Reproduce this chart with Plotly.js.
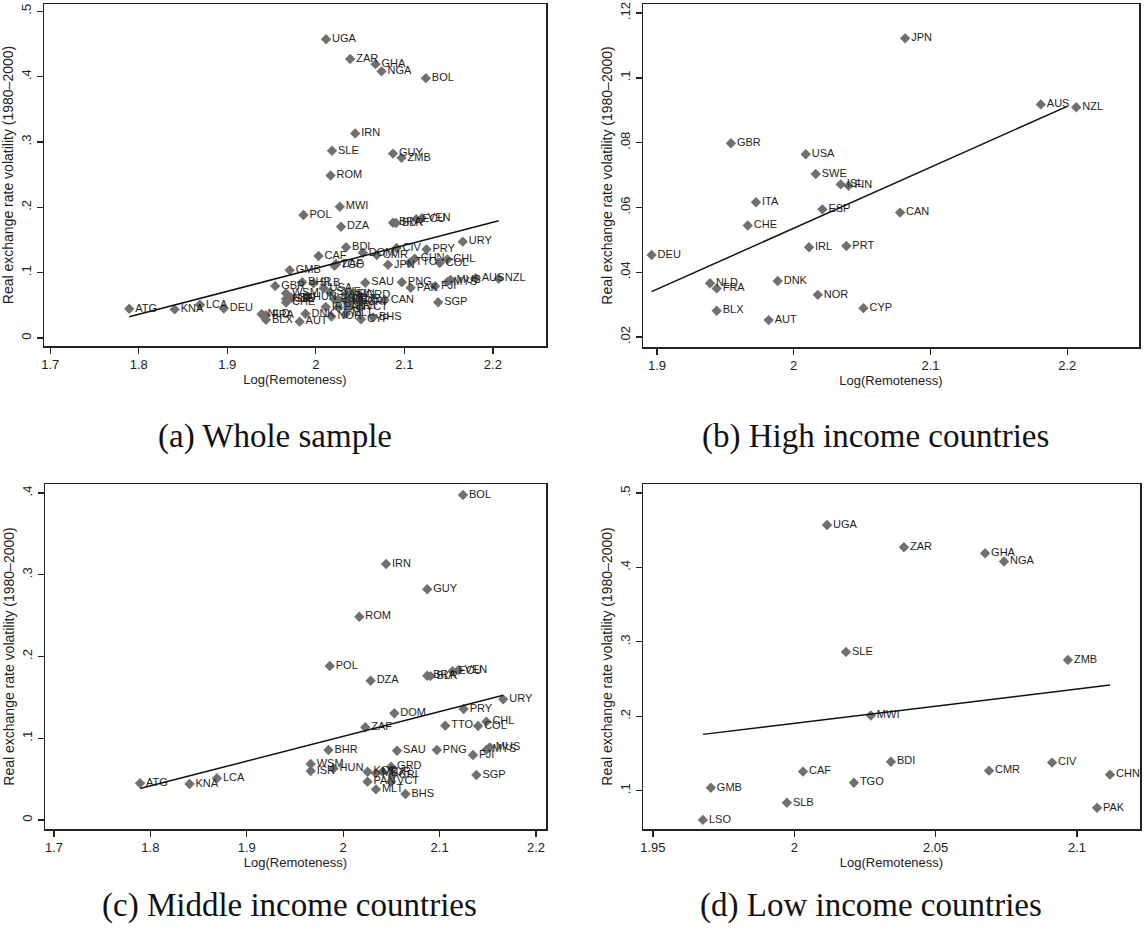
<!DOCTYPE html>
<html><head><meta charset="utf-8">
<script src="https://cdn.plot.ly/plotly-3.0.1.min.js"></script>
<style>html,body{margin:0;padding:0;background:#fff}#chart{width:1147px;height:937px}</style>
</head><body><div id="chart"></div>
<script>
// ---- High income countries ----
const highCodes = ['GBR','USA','SWE','ISL','FIN','ITA','ESP','CHE','DEU','IRL','PRT','NLD','FRA','DNK','NOR','BLX','AUT','CYP','CAN','JPN','AUS','NZL'];
const highX = [1.9541,2.0088,2.0161,2.0344,2.0401,1.9724,2.0210,1.9664,1.8961,2.0112,2.0385,1.9388,1.9437,1.9883,2.0176,1.9437,1.9817,2.0510,2.0778,2.0815,2.1807,2.2066];
const highY = [0.0798,0.0764,0.0703,0.0671,0.0667,0.0616,0.0594,0.0544,0.0453,0.0477,0.0481,0.0366,0.0350,0.0373,0.0330,0.0281,0.0252,0.0289,0.0584,0.1122,0.0918,0.0909];

// ---- Middle income countries ----
const midCodes = ['ATG','KNA','LCA','BOL','IRN','GUY','ROM','POL','DZA','BRA','BLR','ECU','VEN','URY','PRY','DOM','ZAF','TTO','CHL','COL','BHR','SAU','PNG','FJI','MYS','MUS','SGP','BHS','MLT','WSM','ISR','HUN','KOR','PAN','MEX','TUR','GRD','CRI','VCT'];
const midX = [1.7893,1.8406,1.8691,2.1243,2.0445,2.0872,2.0167,1.9861,2.0285,2.0872,2.0905,2.1135,2.1198,2.1660,2.1250,2.0531,2.0229,2.1059,2.1486,2.1400,1.9847,2.0559,2.0972,2.1347,2.1486,2.1521,2.1382,2.0646,2.0340,1.9663,1.9663,1.9900,2.0253,2.0253,2.0340,2.0410,2.0497,2.0514,2.0497];
const midY = [0.0449,0.0440,0.0510,0.3976,0.3131,0.2822,0.2487,0.1884,0.1704,0.1765,0.1760,0.1820,0.1835,0.1476,0.1358,0.1305,0.1134,0.1154,0.1203,0.1150,0.0856,0.0848,0.0856,0.0795,0.0860,0.0889,0.0550,0.0318,0.0375,0.0685,0.0600,0.0630,0.0591,0.0469,0.0571,0.0590,0.0652,0.0550,0.0469];

// ---- Low income countries ----
const lowCodes = ['UGA','ZAR','GHA','NGA','SLE','ZMB','MWI','BDI','CAF','TGO','GMB','SLB','LSO','CMR','CIV','CHN','PAK'];
const lowX = [2.0116,2.0388,2.0675,2.0742,2.0183,2.0968,2.0271,2.0342,2.0031,2.0211,1.9705,1.9974,1.9677,2.0689,2.0912,2.1117,2.1071];
const lowY = [0.457,0.427,0.419,0.408,0.2865,0.2757,0.201,0.139,0.1257,0.1108,0.104,0.0838,0.0608,0.127,0.1378,0.1216,0.077];

// ---- Fitted lines (endpoints) ----
const fitAllX = [1.7893, 2.2066], fitAllY = [0.0326, 0.1796];
const fitHighX = [1.8961, 2.2000], fitHighY = [0.0340, 0.0912];
const fitMidX = [1.7893, 2.1660], fitMidY = [0.0385, 0.1525];
const fitLowX = [1.9677, 2.1117], fitLowY = [0.1757, 0.2419];

// ---- Tick labels ----
const xTicksA = [1.7,1.8,1.9,2,2.1,2.2], xTextA = ['1.7','1.8','1.9','2','2.1','2.2'];
const yTicksA = [0,0.1,0.2,0.3,0.4,0.5], yTextA = ['0','.1','.2','.3','.4','.5'];
const xTicksB = [1.9,2,2.1,2.2], xTextB = ['1.9','2','2.1','2.2'];
const yTicksB = [0.02,0.04,0.06,0.08,0.1,0.12], yTextB = ['.02','.04','.06','.08','.1','.12'];
const xTicksC = [1.7,1.8,1.9,2,2.1,2.2], xTextC = ['1.7','1.8','1.9','2','2.1','2.2'];
const yTicksC = [0,0.1,0.2,0.3,0.4], yTextC = ['0','.1','.2','.3','.4'];
const xTicksD = [1.95,2,2.05,2.1], xTextD = ['1.95','2','2.05','2.1'];
const yTicksD = [0.1,0.2,0.3,0.4,0.5], yTextD = ['.1','.2','.3','.4','.5'];

const captions = ['(a) Whole sample','(b) High income countries','(c) Middle income countries','(d) Low income countries'];

const W = 1147, H = 937;
const SANS = 'Liberation Sans, Arial, sans-serif';
const MCOL = '#707070';

function pts(x, y, codes, xa, ya) {
  return {x: x, y: y, text: codes, type: 'scatter', mode: 'markers+text',
    textposition: 'middle right', cliponaxis: false,
    textfont: {family: SANS, size: 11, color: '#1e1e1e'},
    marker: {symbol: 'diamond', size: 8, color: MCOL},
    xaxis: xa, yaxis: ya, hoverinfo: 'text', showlegend: false};
}
function fit(x, y, xa, ya) {
  return {x: x, y: y, type: 'scatter', mode: 'lines',
    line: {color: '#111', width: 1.5}, xaxis: xa, yaxis: ya, showlegend: false, hoverinfo: 'skip'};
}

const allX = highX.concat(midX, lowX), allY = highY.concat(midY, lowY), allC = highCodes.concat(midCodes, lowCodes);

const data = [
  pts(allX, allY, allC, 'x', 'y'), fit(fitAllX, fitAllY, 'x', 'y'),
  pts(highX, highY, highCodes, 'x2', 'y2'), fit(fitHighX, fitHighY, 'x2', 'y2'),
  pts(midX, midY, midCodes, 'x3', 'y3'), fit(fitMidX, fitMidY, 'x3', 'y3'),
  pts(lowX, lowY, lowCodes, 'x4', 'y4'), fit(fitLowX, fitLowY, 'x4', 'y4')
];

function xax(l, r, range, tv, tt, anchor) {
  return {domain: [l / W, r / W], range: range, anchor: anchor,
    tickmode: 'array', tickvals: tv, ticktext: tt,
    showline: true, mirror: true, linecolor: '#222', linewidth: 1.5,
    ticks: 'outside', ticklen: 6, tickwidth: 1.3, tickcolor: '#222',
    showgrid: false, zeroline: false,
    tickfont: {family: SANS, size: 13, color: '#222'},
    title: {text: 'Log(Remoteness)', font: {family: SANS, size: 13, color: '#222'}, standoff: 4}};
}
function yax(t, b, range, tv, tt, anchor) {
  return {domain: [1 - b / H, 1 - t / H], range: range, anchor: anchor,
    tickmode: 'array', tickvals: tv, ticktext: tt, tickangle: -90,
    showline: true, mirror: true, linecolor: '#222', linewidth: 1.5,
    ticks: 'outside', ticklen: 6, tickwidth: 1.3, tickcolor: '#222',
    showgrid: false, zeroline: false,
    tickfont: {family: SANS, size: 13, color: '#222'},
    title: {text: 'Real exchange rate volatility (1980–2000)', font: {family: SANS, size: 14, color: '#222'}, standoff: 2}};
}

const layout = {
  width: W, height: H, margin: {l: 0, r: 0, t: 0, b: 0},
  paper_bgcolor: '#fff', plot_bgcolor: '#fff', showlegend: false,
  xaxis: xax(44, 546, [1.693, 2.26], xTicksA, xTextA, 'y'),
  yaxis: yax(4, 346, [-0.012, 0.511], yTicksA, yTextA, 'x'),
  xaxis2: xax(643, 1139, [1.8898, 2.2525], xTicksB, xTextB, 'y2'),
  yaxis2: yax(4, 347, [0.0169, 0.1228], yTicksB, yTextB, 'x2'),
  xaxis3: xax(45, 546, [1.6907, 2.2104], xTicksC, xTextC, 'y3'),
  yaxis3: yax(484, 829, [-0.011, 0.411], yTicksC, yTextC, 'x3'),
  xaxis4: xax(643, 1140, [1.9465, 2.1223], xTicksD, xTextD, 'y4'),
  yaxis4: yax(484, 829, [0.0486, 0.512], yTicksD, yTextD, 'x4'),
  annotations: [
    {text: captions[0], x: 275 / W, y: 1 - 436 / H},
    {text: captions[1], x: 875 / W, y: 1 - 436 / H},
    {text: captions[2], x: 289 / W, y: 1 - 905 / H},
    {text: captions[3], x: 871 / W, y: 1 - 905 / H}
  ].map(a => Object.assign(a, {xref: 'paper', yref: 'paper', showarrow: false,
      xanchor: 'center', yanchor: 'middle',
      font: {family: 'Liberation Serif, Times New Roman, serif', size: 33, color: '#111'}}))
};

Plotly.newPlot('chart', data, layout, {staticPlot: true, displayModeBar: false});
</script></body></html>
